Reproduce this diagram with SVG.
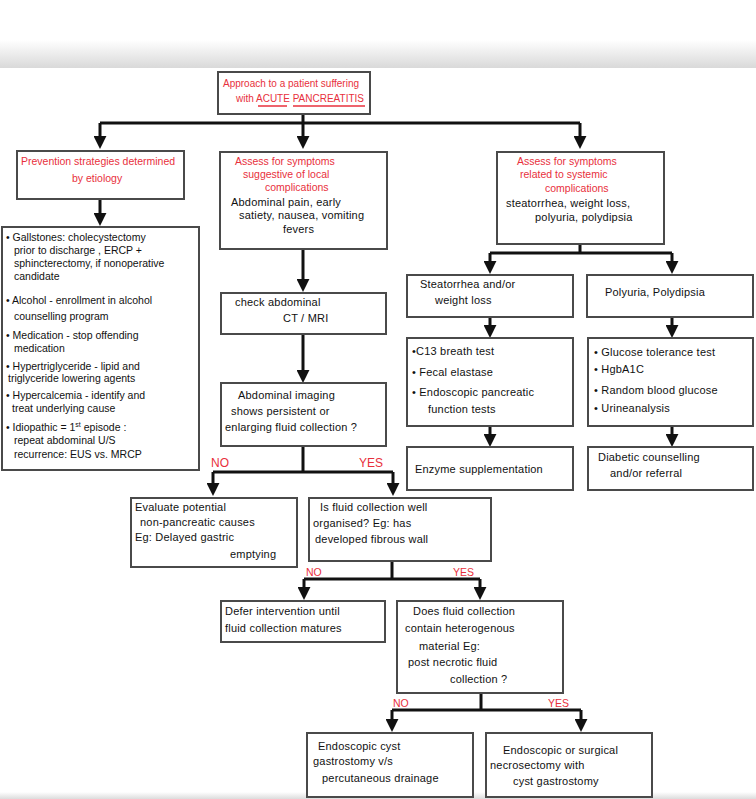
<svg xmlns="http://www.w3.org/2000/svg" width="756" height="799" viewBox="0 0 756 799">
<defs>
<linearGradient id="topShade" x1="0" y1="0" x2="0" y2="1">
<stop offset="0" stop-color="#ffffff"/>
<stop offset="1" stop-color="#d9d9d9"/>
</linearGradient>
<linearGradient id="botShade" x1="0" y1="0" x2="0" y2="1">
<stop offset="0" stop-color="#ffffff"/>
<stop offset="1" stop-color="#dcdcdc"/>
</linearGradient>
<marker id="arr" markerUnits="userSpaceOnUse" viewBox="0 0 10 10" refX="7" refY="5" markerWidth="13" markerHeight="13" orient="auto">
<path d="M0,0 L10,5 L0,10 z" fill="#111"/>
</marker>
<style>
.box{fill:#fff;stroke:#4a4a4a;stroke-width:2}
.t{font-family:"Liberation Sans",Arial,sans-serif;font-size:11px;letter-spacing:0.2px;fill:#111}
.s{font-size:10.5px;letter-spacing:0}
.r{font-family:"Liberation Sans",Arial,sans-serif;font-size:10.5px;fill:#e8303c}
.lbl{font-family:"Liberation Sans",Arial,sans-serif;font-size:12px;fill:#e8303c}
.lbs{font-family:"Liberation Sans",Arial,sans-serif;font-size:10.5px;fill:#e8303c}
.c{fill:none;stroke:#111;stroke-width:3}
.a{fill:none;stroke:#111;stroke-width:3;marker-end:url(#arr)}
.u{stroke:#e8303c;stroke-width:1.5}
</style>
</defs>
<rect x="0" y="0" width="756" height="799" fill="#fff"/>
<rect x="0" y="40" width="756" height="28" fill="url(#topShade)"/>
<rect x="0" y="792" width="756" height="7" fill="url(#botShade)"/>

<g id="connectors">
<path class="c" d="M303,114 V123 M100,123 H580"/>
<path class="a" d="M100,123 V145"/>
<path class="a" d="M303,123 V145"/>
<path class="a" d="M580,123 V145"/>
<path class="a" d="M100,199 V222"/>
<path class="a" d="M303,249 V288"/>
<path class="a" d="M303,334 V379"/>
<path class="c" d="M303,446 V472 M213,472 H393"/>
<path class="a" d="M213,472 V492"/>
<path class="a" d="M393,472 V492"/>
<path class="c" d="M392,561 V579 M304,579 H480"/>
<path class="a" d="M304,579 V596"/>
<path class="a" d="M480,579 V596"/>
<path class="c" d="M481,693 V710 M392,710 H581"/>
<path class="a" d="M392,710 V728"/>
<path class="a" d="M581,710 V728"/>
<path class="c" d="M580,244 V253 M490,253 H672"/>
<path class="a" d="M490,253 V270"/>
<path class="a" d="M672,253 V270"/>
<path class="a" d="M490,317 V334"/>
<path class="a" d="M672,317 V334"/>
<path class="a" d="M490,426 V443"/>
<path class="a" d="M672,426 V443"/>
<text class="lbl" x="211" y="467">NO</text>
<text class="lbl" x="359" y="467">YES</text>
<text class="lbs" x="306" y="576">NO</text>
<text class="lbs" x="453" y="576">YES</text>
<text class="lbs" x="393" y="707">NO</text>
<text class="lbs" x="548" y="707">YES</text>
</g>

<g id="root">
<rect class="box" x="218" y="72" width="152" height="42"/>
<text class="r" x="223" y="87" style="font-size:10px">Approach to a patient suffering</text>
<text class="r" x="236" y="102" style="font-size:10px">with ACUTE PANCREATITIS</text>
<line class="u" x1="258" y1="106" x2="287" y2="106"/>
<line class="u" x1="293" y1="106" x2="365" y2="106"/>
</g>

<g id="prevention">
<rect class="box" x="17" y="151" width="167" height="48"/>
<text class="r" x="21" y="165">Prevention strategies determined</text>
<text class="r" x="72" y="182">by etiology</text>
</g>

<g id="etiology">
<rect class="box" x="2" y="227" width="197" height="243"/>
<text class="t s" x="6" y="241">• Gallstones: cholecystectomy</text>
<text class="t s" x="14" y="254">prior to discharge , ERCP +</text>
<text class="t s" x="14" y="267">sphincterectomy, if nonoperative</text>
<text class="t s" x="14" y="280">candidate</text>
<text class="t s" x="6" y="304">• Alcohol - enrollment in alcohol</text>
<text class="t s" x="14" y="320">counselling program</text>
<text class="t s" x="6" y="339">• Medication - stop offending</text>
<text class="t s" x="14" y="352">medication</text>
<text class="t s" x="6" y="370">• Hypertriglyceride - lipid and</text>
<text class="t s" x="8" y="382">triglyceride lowering agents</text>
<text class="t s" x="6" y="399">• Hypercalcemia - identify and</text>
<text class="t s" x="12" y="412">treat underlying cause</text>
<text class="t s" x="6" y="431">• Idiopathic = 1<tspan dy="-4" font-size="7">st</tspan><tspan dy="4"> episode :</tspan></text>
<text class="t s" x="14" y="444">repeat abdominal U/S</text>
<text class="t s" x="14" y="458">recurrence: EUS vs. MRCP</text>
</g>

<g id="local">
<rect class="box" x="220" y="152" width="167" height="97"/>
<text class="r" x="235" y="165">Assess for symptoms</text>
<text class="r" x="243" y="178">suggestive of local</text>
<text class="r" x="265" y="191">complications</text>
<text class="t" x="231" y="206">Abdominal pain, early</text>
<text class="t" x="239" y="219">satiety, nausea, vomiting</text>
<text class="t" x="283" y="233">fevers</text>
</g>

<g id="ct">
<rect class="box" x="221" y="293" width="165" height="41"/>
<text class="t" x="235" y="306">check abdominal</text>
<text class="t" x="283" y="322">CT / MRI</text>
</g>

<g id="imaging">
<rect class="box" x="221" y="383" width="165" height="63"/>
<text class="t" x="238" y="399">Abdominal imaging</text>
<text class="t" x="231" y="415">shows persistent or</text>
<text class="t" x="225" y="431">enlarging fluid collection ?</text>
</g>

<g id="evaluate">
<rect class="box" x="131" y="498" width="166" height="69"/>
<text class="t" x="135" y="511">Evaluate potential</text>
<text class="t" x="140" y="526">non-pancreatic causes</text>
<text class="t" x="135" y="541">Eg: Delayed gastric</text>
<text class="t" x="230" y="558">emptying</text>
</g>

<g id="organised">
<rect class="box" x="309" y="498" width="182" height="63"/>
<text class="t" x="320" y="511">Is fluid collection well</text>
<text class="t" x="313" y="527">organised? Eg: has</text>
<text class="t" x="315" y="543">developed fibrous wall</text>
</g>

<g id="defer">
<rect class="box" x="221" y="601" width="164" height="41"/>
<text class="t" x="225" y="615">Defer intervention until</text>
<text class="t" x="225" y="632">fluid collection matures</text>
</g>

<g id="heterogenous">
<rect class="box" x="397" y="601" width="166" height="92"/>
<text class="t" x="413" y="615">Does fluid collection</text>
<text class="t" x="405" y="632">contain heterogenous</text>
<text class="t" x="419" y="650">material Eg:</text>
<text class="t" x="408" y="666">post necrotic fluid</text>
<text class="t" x="450" y="683">collection ?</text>
</g>

<g id="drainage">
<rect class="box" x="307" y="733" width="166" height="64"/>
<text class="t" x="318" y="750">Endoscopic cyst</text>
<text class="t" x="313" y="765">gastrostomy v/s</text>
<text class="t" x="322" y="782">percutaneous drainage</text>
</g>

<g id="necrosectomy">
<rect class="box" x="486" y="733" width="166" height="64"/>
<text class="t" x="503" y="754">Endoscopic or surgical</text>
<text class="t" x="490" y="769">necrosectomy with</text>
<text class="t" x="513" y="785">cyst gastrostomy</text>
</g>

<g id="systemic">
<rect class="box" x="497" y="152" width="167" height="92"/>
<text class="r" x="517" y="165">Assess for symptoms</text>
<text class="r" x="520" y="178">related to systemic</text>
<text class="r" x="545" y="192">complications</text>
<text class="t" x="506" y="207">steatorrhea, weight loss,</text>
<text class="t" x="535" y="221">polyuria, polydipsia</text>
</g>

<g id="steatorrhea">
<rect class="box" x="407" y="275" width="166" height="42"/>
<text class="t" x="420" y="288">Steatorrhea and/or</text>
<text class="t" x="435" y="304">weight loss</text>
</g>

<g id="polyuria">
<rect class="box" x="587" y="275" width="166" height="42"/>
<text class="t" x="605" y="296">Polyuria, Polydipsia</text>
</g>

<g id="exocrine-tests">
<rect class="box" x="407" y="338" width="166" height="88"/>
<text class="t" x="412" y="355">•C13 breath test</text>
<text class="t" x="412" y="376">• Fecal elastase</text>
<text class="t" x="412" y="396">• Endoscopic pancreatic</text>
<text class="t" x="428" y="413">function tests</text>
</g>

<g id="glucose-tests">
<rect class="box" x="588" y="338" width="165" height="88"/>
<text class="t" x="594" y="356">• Glucose tolerance test</text>
<text class="t" x="594" y="373">• HgbA1C</text>
<text class="t" x="594" y="394">• Random blood glucose</text>
<text class="t" x="594" y="412">• Urineanalysis</text>
</g>

<g id="enzyme">
<rect class="box" x="407" y="447" width="166" height="43"/>
<text class="t" x="415" y="473">Enzyme supplementation</text>
</g>

<g id="diabetic">
<rect class="box" x="588" y="447" width="165" height="43"/>
<text class="t" x="598" y="461">Diabetic counselling</text>
<text class="t" x="610" y="477">and/or referral</text>
</g>
</svg>
